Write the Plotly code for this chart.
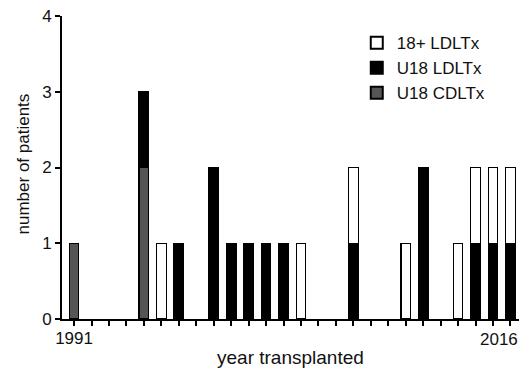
import plotly.graph_objects as go

years = list(range(1991, 2017))
u18_cdltx = [1, 0, 0, 0, 2, 0, 0, 0, 0, 0, 0, 0, 0, 0, 0, 0, 0, 0, 0, 0, 0, 0, 0, 0, 0, 0]
u18_ldltx = [0, 0, 0, 0, 1, 0, 1, 0, 2, 1, 1, 1, 1, 0, 0, 0, 1, 0, 0, 0, 2, 0, 0, 1, 1, 1]
adult_ldltx = [0, 0, 0, 0, 0, 1, 0, 0, 0, 0, 0, 0, 0, 1, 0, 0, 1, 0, 0, 1, 0, 0, 1, 1, 1, 1]
tick_text = ["1991"] + [""] * 24 + ["2016"]

font = "Liberation Sans, Arial, sans-serif"
fig = go.Figure()
for name, vals, color in [("U18 CDLTx", u18_cdltx, "#555555"),
                          ("U18 LDLTx", u18_ldltx, "#000000"),
                          ("18+ LDLTx", adult_ldltx, "#ffffff")]:
    fig.add_trace(go.Bar(x=years, y=[v if v else None for v in vals], name=name, width=0.55,
                         marker=dict(color=color, line=dict(color="#000000", width=1.2))))

# the last tick label is drawn as an annotation so it stays fully inside the page
axis_text = tick_text[:-1] + [""]

fig.update_layout(
    width=522, height=366, barmode="stack",
    margin=dict(l=54, r=11, t=8, b=55),
    plot_bgcolor="white", paper_bgcolor="white",
    font=dict(family=font, size=16, color="#111111"),
    showlegend=True,
    legend=dict(traceorder="reversed", x=0.645, y=0.97, xanchor="left", yanchor="top",
                font=dict(size=17, family=font), bgcolor="rgba(0,0,0,0)",
                itemsizing="constant", tracegroupgap=0),
    xaxis=dict(range=[1990.31, 2016.49], tickmode="array", tickvals=years, ticktext=axis_text,
               ticks="outside", ticklen=5, tickwidth=2, tickcolor="#000",
               showline=True, linecolor="#000", linewidth=2, showgrid=False, zeroline=False,
               automargin=False, ticklabelstandoff=-2, ticklabeloverflow="allow",
               tickfont=dict(size=17)),
    yaxis=dict(range=[0, 4], tickvals=[0, 1, 2, 3, 4], ticks="outside", ticklen=5, tickwidth=2,
               tickcolor="#000", showline=True, linecolor="#000", linewidth=2,
               showgrid=False, zeroline=False, automargin=False, ticklabeloverflow="allow",
               tickfont=dict(size=17)),
    annotations=[
        dict(text=tick_text[-1], xref="x", yref="paper", x=years[-1], y=0,
             xanchor="right", yanchor="middle", xshift=10, yshift=-20, showarrow=False,
             font=dict(size=17)),
        dict(text="year transplanted", xref="paper", yref="paper", x=0.5, y=0,
             xanchor="center", yanchor="middle", yshift=-38, showarrow=False,
             font=dict(size=19)),
        dict(text="number of patients", xref="paper", yref="paper", x=0, y=0.51,
             xanchor="center", yanchor="middle", xshift=-39, textangle=-90, showarrow=False,
             font=dict(size=17)),
    ],
)
fig.write_html("out.html")
